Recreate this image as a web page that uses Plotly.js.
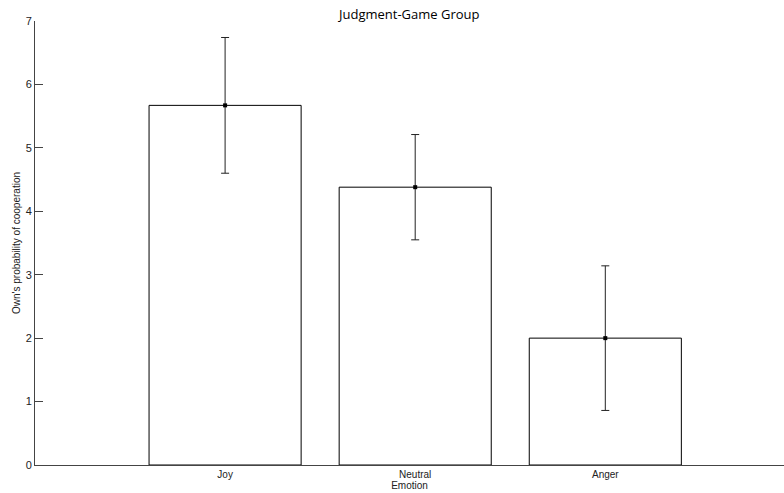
<!DOCTYPE html>
<html>
<head>
<meta charset="utf-8">
<script src="https://cdn.plot.ly/plotly-3.0.1.min.js"></script>
<style>html,body{margin:0;padding:0;background:#fff;}#chart{width:784px;height:493px;}</style>
</head>
<body>
<div id="chart"></div>
<script>
const categories = ["Joy", "Neutral", "Anger"];
const positions = [1, 2, 3];
const means = [5.67, 4.38, 2.00];
const errors = [1.07, 0.83, 1.14];
const yTicks = [0, 1, 2, 3, 4, 5, 6, 7];

const bars = {
  type: "bar",
  x: positions,
  y: means,
  width: 0.8,
  marker: {color: "#ffffff", line: {color: "#000000", width: 1}},
  hoverinfo: "skip",
  showlegend: false
};
const errs = {
  type: "scatter",
  mode: "markers",
  x: positions,
  y: means,
  marker: {symbol: "square", size: 4, color: "#000000"},
  error_y: {type: "data", array: errors, visible: true, color: "#222222", thickness: 1, width: 4},
  showlegend: false
};

const layout = {
  width: 784, height: 493,
  margin: {l: 35, r: 0, t: 21, b: 28},
  paper_bgcolor: "#ffffff", plot_bgcolor: "#ffffff",
  font: {family: "Arial, Liberation Sans, sans-serif", size: 10, color: "#222"},
  title: {text: "Judgment-Game Group", x: 0.522, xanchor: "center", y: 0.98, yanchor: "top",
          font: {family: "Segoe UI, Open Sans, sans-serif", size: 13, color: "#000"}},
  bargap: 0.2,
  xaxis: {
    range: [0, 3.94], tickvals: positions, ticktext: categories,
    ticks: "", showgrid: false, zeroline: false,
    showline: true, linecolor: "#444", linewidth: 1,
    tickfont: {size: 10, color: "#222"},
    title: {text: "Emotion", standoff: 0, font: {size: 10, color: "#222"}}
  },
  yaxis: {
    range: [0, 7], tickvals: yTicks, ticks: "inside", ticklen: 8, tickcolor: "#444",
    showgrid: false, zeroline: false, showline: true, linecolor: "#444", linewidth: 1,
    tickfont: {size: 11, color: "#222"},
    title: {text: "Own's probability of cooperation", standoff: 3, font: {size: 10, color: "#222"}}
  }
};

Plotly.newPlot("chart", [bars, errs], layout, {displayModeBar: false, staticPlot: true});
</script>
</body>
</html>
